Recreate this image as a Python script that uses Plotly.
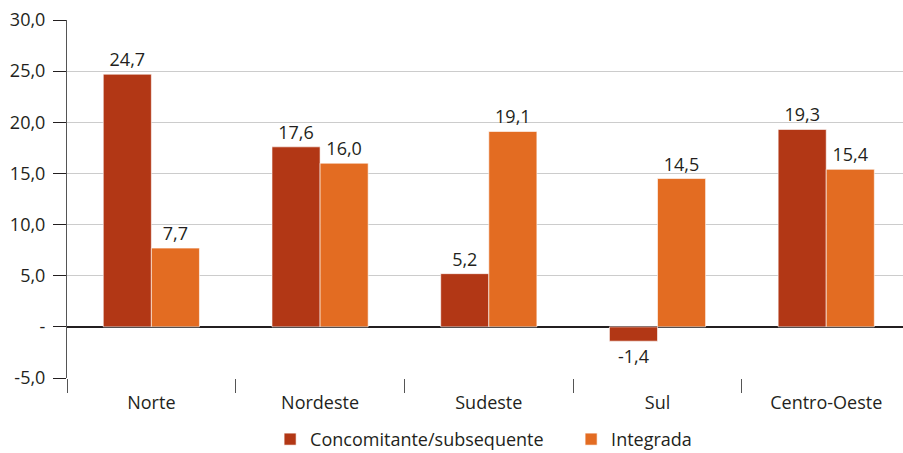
import plotly.graph_objects as go

regioes = ["Norte", "Nordeste", "Sudeste", "Sul", "Centro-Oeste"]
concomitante = [24.7, 17.6, 5.2, -1.4, 19.3]
integrada = [7.7, 16.0, 19.1, 14.5, 15.4]

y_ticks = [-5, 0, 5, 10, 15, 20, 25, 30]
y_tick_text = ["-5,0", "-", "5,0", "10,0", "15,0", "20,0", "25,0", "30,0"]

FONT = "Open Sans, Noto Sans, sans-serif"
TXT = "#231f20"
FS = 18

fig = go.Figure()
fig.add_bar(
    x=regioes, y=concomitante, name="Concomitante/subsequente",
    marker=dict(color="#B23715", line=dict(color="white", width=0.6)),
    texttemplate="%{y:.1f}", textposition="outside",
    textfont=dict(size=FS, color=TXT, family=FONT), cliponaxis=False,
)
fig.add_bar(
    x=regioes, y=integrada, name="Integrada",
    marker=dict(color="#E36C22", line=dict(color="white", width=0.6)),
    texttemplate="%{y:.1f}", textposition="outside",
    textfont=dict(size=FS, color=TXT, family=FONT), cliponaxis=False,
)

fig.update_layout(
    width=903, height=453,
    margin=dict(l=67, r=0, t=20, b=75, autoexpand=False),
    paper_bgcolor="white", plot_bgcolor="white",
    separators=",.",
    barmode="group", bargap=0.43, bargroupgap=0,
    font=dict(family=FONT, size=FS, color=TXT),
    showlegend=True,
    legend=dict(
        orientation="h", x=0.603, xanchor="center",
        yref="container", y=0.03, yanchor="middle",
        font=dict(size=FS, color=TXT, family=FONT),
        itemwidth=30, entrywidth=256, tracegroupgap=0, traceorder="normal",
    ),
)

# the last category runs slightly past the right edge of the figure
fig.update_xaxes(
    type="category", range=[-0.5, 4.455],
    showgrid=False, zeroline=False,
    showline=False, ticks="outside", tickson="boundaries",
    ticklen=14, tickwidth=1, tickcolor="#555555",
    ticklabelstandoff=12,
    tickfont=dict(size=FS, color=TXT, family=FONT),
)
fig.update_yaxes(
    range=[-5, 30], tickvals=y_ticks, ticktext=y_tick_text,
    showgrid=True, gridcolor="#cccccc", gridwidth=1,
    zeroline=True, zerolinecolor="#231f20", zerolinewidth=1.5,
    showline=True, linecolor="#555555", linewidth=1,
    ticks="outside", ticklen=13, tickcolor="#231f20",
    ticklabelstandoff=4,
    tickfont=dict(size=FS, color=TXT, family=FONT),
)

fig.write_html("out.html")
